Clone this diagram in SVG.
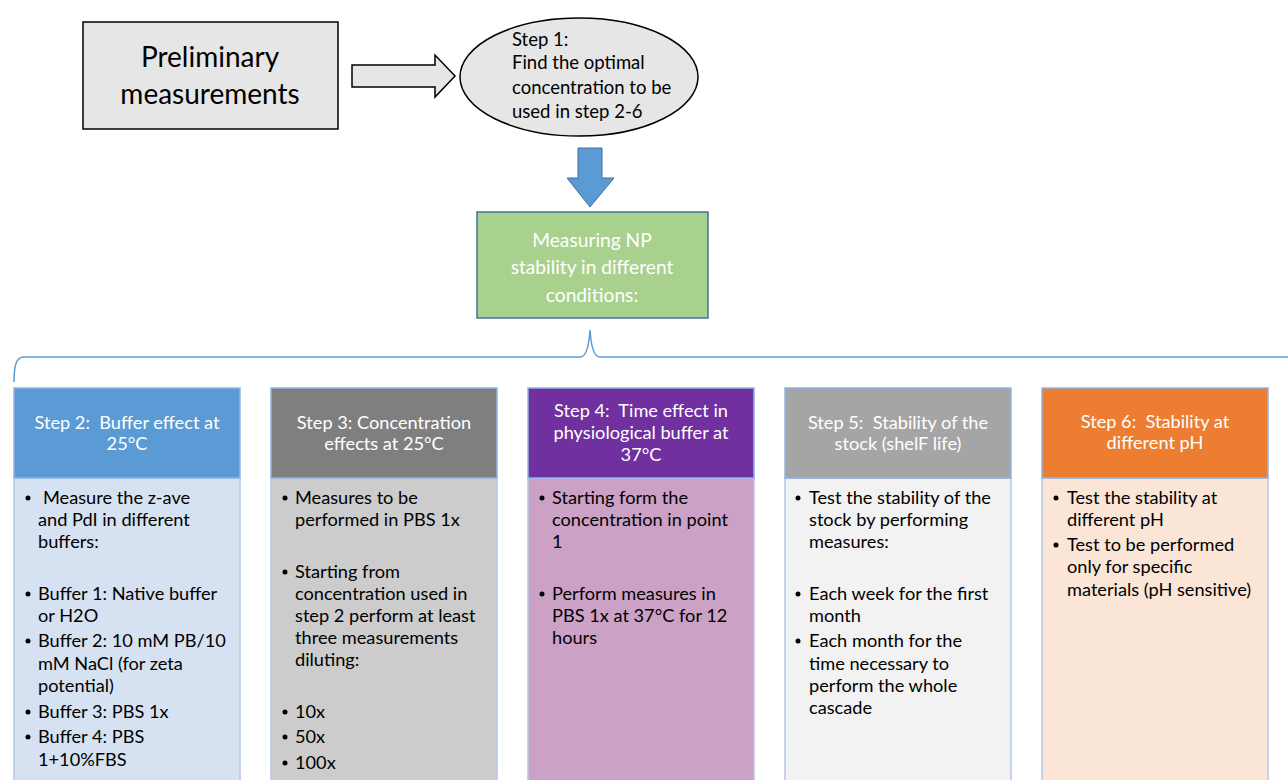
<svg xmlns="http://www.w3.org/2000/svg" width="1288" height="780" viewBox="0 0 1288 780">
<style>
text{font-family:Lato,"Open Sans","Liberation Sans",sans-serif;white-space:pre}
.b{font-size:18.2px;fill:#000}
.e{font-size:18.5px;fill:#000}
.h{font-size:18.2px;fill:#fff;text-anchor:middle}
.big{font-size:28px;fill:#000;text-anchor:middle}
.g{font-size:19.2px;fill:#fff;text-anchor:middle}
.hd{stroke:#8eb4e3;stroke-width:1.5}
.bd{stroke:#b4c7e7;stroke-width:1.5}
</style>
<rect width="1288" height="780" fill="#fff"/>
<g id="prelim">
<rect x="83" y="22" width="255" height="107" fill="#e6e6e6" stroke="#000" stroke-width="1.5"/>
<text class="big" x="210" y="67">Preliminary</text>
<text class="big" x="210" y="104">measurements</text>
</g>
<g id="step1">
<ellipse cx="579" cy="77" rx="119" ry="59" fill="#e6e6e6" stroke="#000" stroke-width="1.5"/>
<text class="e" x="512" y="46">Step 1:</text>
<text class="e" x="512" y="69">Find the optimal</text>
<text class="e" x="512" y="94">concentration to be</text>
<text class="e" x="512" y="118">used in step 2-6</text>
</g>
<g id="measuring">
<rect x="477" y="212" width="231" height="106" fill="#a9d18e" stroke="#41719c" stroke-width="1.5"/>
<text class="g" x="592" y="247">Measuring NP</text>
<text class="g" x="592" y="274">stability in different</text>
<text class="g" x="592" y="302">conditions:</text>
</g>
<g id="connectors">
<path d="M352,65 H435 V55 L455,76 L435,97 V87 H352 Z" fill="#e6e6e6" stroke="#000" stroke-width="1.5"/>
<path d="M578,148 H602 V178 H614 L590,207 L567,178 H578 Z" fill="#5b9bd5" stroke="#41719c" stroke-width="1"/>
<path d="M14,382 C14,366 16,357 24,357 L580,357 C586,357 589,346 590,330 C591,346 594,357 600,357 L1290,357" fill="none" stroke="#5b9bd5" stroke-width="1.5"/>
</g>
<g id="step2">
<rect x="14" y="478" width="226" height="312" fill="#d6e1f1" class="bd"/>
<rect x="14" y="388" width="226" height="90" fill="#5b9bd5" class="hd"/>
<text class="h" x="127" y="429">Step 2:  Buffer effect at</text>
<text class="h" x="127" y="450">25°C</text>
<g class="b">
<circle cx="28" cy="498" r="2.5"/><text x="43" y="504">Measure the z-ave</text>
<text x="38" y="526">and PdI in different</text>
<text x="38" y="548">buffers:</text>
<circle cx="28" cy="594" r="2.5"/><text x="38" y="600">Buffer 1: Native buffer</text>
<text x="38" y="622">or H2O</text>
<circle cx="28" cy="641" r="2.5"/><text x="38" y="647">Buffer 2: 10 mM PB/10</text>
<text x="38" y="670">mM NaCl (for zeta</text>
<text x="38" y="692">potential)</text>
<circle cx="28" cy="712" r="2.5"/><text x="38" y="718">Buffer 3: PBS 1x</text>
<circle cx="28" cy="737" r="2.5"/><text x="38" y="743">Buffer 4: PBS</text>
<text x="38" y="766">1+10%FBS</text>
</g>
</g>
<g id="step3">
<rect x="271" y="478" width="226" height="312" fill="#cccccc" class="bd"/>
<rect x="271" y="388" width="226" height="90" fill="#7f7f7f" class="hd"/>
<text class="h" x="384" y="429">Step 3: Concentration</text>
<text class="h" x="384" y="450">effects at 25°C</text>
<g class="b">
<circle cx="285" cy="498" r="2.5"/><text x="295" y="504">Measures to be</text>
<text x="295" y="526">performed in PBS 1x</text>
<circle cx="285" cy="572" r="2.5"/><text x="295" y="578">Starting from</text>
<text x="295" y="600">concentration used in</text>
<text x="295" y="622">step 2 perform at least</text>
<text x="295" y="644">three measurements</text>
<text x="295" y="666">diluting:</text>
<circle cx="285" cy="712" r="2.5"/><text x="295" y="718">10x</text>
<circle cx="285" cy="737" r="2.5"/><text x="295" y="743">50x</text>
<circle cx="285" cy="763" r="2.5"/><text x="295" y="769">100x</text>
</g>
</g>
<g id="step4">
<rect x="528" y="478" width="226" height="312" fill="#cca1c6" class="bd"/>
<rect x="528" y="388" width="226" height="90" fill="#7030a0" class="hd"/>
<text class="h" x="641" y="417">Step 4:  Time effect in</text>
<text class="h" x="641" y="439">physiological buffer at</text>
<text class="h" x="641" y="461">37°C</text>
<g class="b">
<circle cx="542" cy="498" r="2.5"/><text x="552" y="504">Starting form the</text>
<text x="552" y="526">concentration in point</text>
<text x="552" y="548">1</text>
<circle cx="542" cy="594" r="2.5"/><text x="552" y="600">Perform measures in</text>
<text x="552" y="622">PBS 1x at 37°C for 12</text>
<text x="552" y="644">hours</text>
</g>
</g>
<g id="step5">
<rect x="785" y="478" width="226" height="312" fill="#f2f2f2" class="bd"/>
<rect x="785" y="388" width="226" height="90" fill="#a5a5a5" class="hd"/>
<text class="h" x="898" y="429">Step 5:  Stability of the</text>
<text class="h" x="898" y="450">stock (shelF life)</text>
<g class="b">
<circle cx="798" cy="498" r="2.5"/><text x="809" y="504">Test the stability of the</text>
<text x="809" y="526">stock by performing</text>
<text x="809" y="548">measures:</text>
<circle cx="798" cy="594" r="2.5"/><text x="809" y="600">Each week for the first</text>
<text x="809" y="622">month</text>
<circle cx="798" cy="641" r="2.5"/><text x="809" y="647">Each month for the</text>
<text x="809" y="670">time necessary to</text>
<text x="809" y="692">perform the whole</text>
<text x="809" y="714">cascade</text>
</g>
</g>
<g id="step6">
<rect x="1042" y="478" width="226" height="312" fill="#fbe5d6" class="bd"/>
<rect x="1042" y="388" width="226" height="90" fill="#ed7d31" class="hd"/>
<text class="h" x="1155" y="428">Step 6:  Stability at</text>
<text class="h" x="1155" y="449">different pH</text>
<g class="b">
<circle cx="1056" cy="498" r="2.5"/><text x="1067" y="504">Test the stability at</text>
<text x="1067" y="526">different pH</text>
<circle cx="1056" cy="545" r="2.5"/><text x="1067" y="551">Test to be performed</text>
<text x="1067" y="573">only for specific</text>
<text x="1067" y="596">materials (pH sensitive)</text>
</g>
</g>
</svg>
